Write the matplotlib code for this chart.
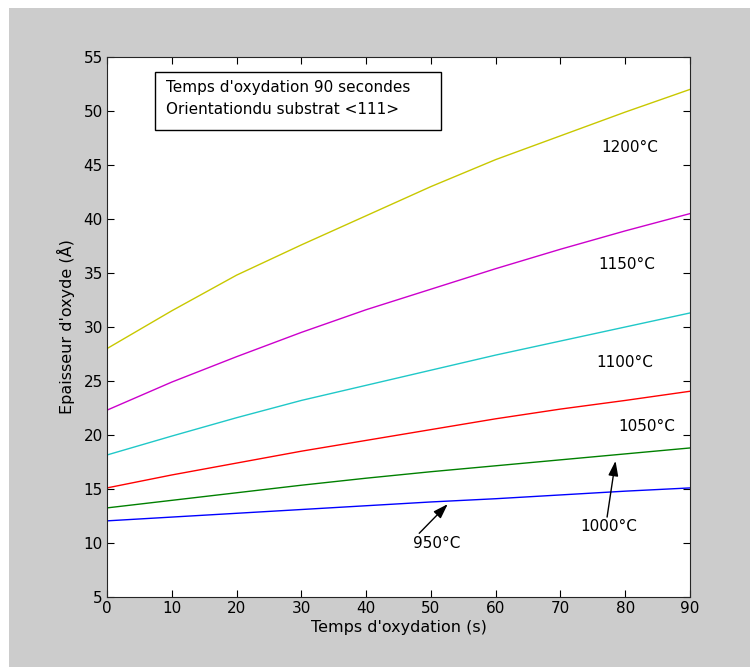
import matplotlib
matplotlib.use("Agg")
import matplotlib.pyplot as plt
from matplotlib.patches import Rectangle

plt.rcParams['font.family'] = ['DejaVu Sans']

t = [0, 10, 20, 30, 40, 50, 60, 70, 80, 90]
y1200 = [28.0, 31.5, 34.8, 37.6, 40.3, 43.0, 45.5, 47.7, 49.9, 52.0]
y1150 = [22.3, 24.9, 27.25, 29.5, 31.6, 33.5, 35.4, 37.2, 38.9, 40.5]
y1100 = [18.15, 19.9, 21.6, 23.2, 24.6, 26.0, 27.4, 28.7, 30.0, 31.3]
y1050 = [15.1, 16.3, 17.4, 18.5, 19.5, 20.5, 21.5, 22.4, 23.2, 24.05]
y1000 = [13.25, 13.95, 14.65, 15.35, 16.0, 16.6, 17.15, 17.7, 18.25, 18.8]
y950 = [12.05, 12.4, 12.75, 13.1, 13.45, 13.8, 14.1, 14.45, 14.8, 15.1]

series = [
    (y1200, '#c8c800'),
    (y1150, '#cc00cc'),
    (y1100, '#20c8c8'),
    (y1050, '#ff0000'),
    (y1000, '#008000'),
    (y950, '#0000ff'),
]

fig = plt.figure(figsize=(7.5, 6.67), dpi=100, facecolor='white')
fig.patches.append(Rectangle((9/750, 0), 1 - 9/750, 1 - 8/667, transform=fig.transFigure,
                             facecolor='#cccccc', edgecolor='none', zorder=-10))
ax = fig.add_axes([107/750, 70/667, 583/750, 540/667])
ax.set_facecolor('white')

for ys, c in series:
    ax.plot(t, ys, color=c, lw=1)

ax.set_xlim(0, 90)
ax.set_ylim(5, 55)
ax.set_xticks(range(0, 91, 10))
ax.set_yticks(range(5, 56, 5))
ax.tick_params(direction='in', top=True, right=True, length=5, labelsize=11, width=0.8, pad=3)
for s in ax.spines.values():
    s.set_linewidth(0.8)
    s.set_color('#262626')
ax.set_xlabel("Temps d'oxydation (s)", fontsize=11.5, labelpad=3)
ax.set_ylabel("Epaisseur d'oxyde (Å)", fontsize=11.5, labelpad=6)

ax.add_patch(Rectangle((0.0823, 0.865), 0.573 - 0.0823, 0.972 - 0.865, transform=ax.transAxes,
                       facecolor='white', edgecolor='black', lw=1, zorder=5))
ax.text(0.101, 0.943, "Temps d'oxydation 90 secondes", transform=ax.transAxes,
        fontsize=11, va='center', ha='left', zorder=6)
ax.text(0.101, 0.902, "Orientationdu substrat <111>", transform=ax.transAxes,
        fontsize=11, va='center', ha='left', zorder=6)

ax.text(80.7, 46.6, '1200°C', fontsize=11, ha='center', va='center')
ax.text(80.3, 35.8, '1150°C', fontsize=11, ha='center', va='center')
ax.text(80.0, 26.75, '1100°C', fontsize=11, ha='center', va='center')
ax.text(83.4, 20.8, '1050°C', fontsize=11, ha='center', va='center')
ax.text(77.5, 11.5, '1000°C', fontsize=11, ha='center', va='center')
ax.text(50.9, 10.0, '950°C', fontsize=11, ha='center', va='center')

arrow = dict(arrowstyle='-|>,head_length=0.9,head_width=0.3', color='black', lw=1,
             shrinkA=0, shrinkB=0)
ax.annotate('', xy=(78.5, 17.6), xytext=(77.2, 12.4), arrowprops=arrow)
ax.annotate('', xy=(52.6, 13.6), xytext=(48.2, 10.9), arrowprops=arrow)

fig.savefig('out.png', dpi=100, facecolor=fig.get_facecolor())
